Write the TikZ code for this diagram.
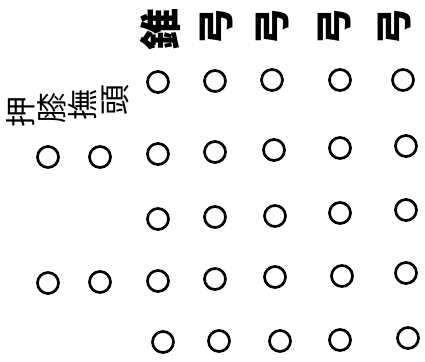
\documentclass[tikz,border=0pt]{standalone}
\usepackage{fontspec}
\newfontfamily\cjk{Noto Sans CJK TC}
\begin{document}
\begin{tikzpicture}[x=1pt,y=-1pt,
  dot/.style={circle,draw,line width=2.7pt,minimum size=21pt,inner sep=0pt},
  glyph/.style={font=\cjk\bfseries,scale=3.7,rotate=90,inner sep=0pt},
  bigglyph/.style={font=\cjk\bfseries,scale=4.2,rotate=90,inner sep=0pt},
  sideglyph/.style={font=\cjk,scale=3.1,rotate=90,inner sep=0pt}]
\useasboundingbox (0,0) rectangle (425,361);
% top labels
\node[bigglyph] (t1) at (160,30) {錐};
\node[glyph] (t2) at (217,27) {弓};
\node[glyph] (t3) at (273,27) {弓};
\node[glyph] (t4) at (335,27) {弓};
\node[glyph] (t5) at (395,27) {弓};
% left labels
\node[sideglyph] (l1) at (21,112) {押};
\node[sideglyph] (l2) at (52,108) {膝};
\node[sideglyph] (l3) at (83,105) {撫};
\node[sideglyph] (l4) at (115,100) {頭};
% row 1
\node[dot] (r1c3) at (158,82) {};
\node[dot] (r1c4) at (215,81) {};
\node[dot] (r1c5) at (272,80) {};
\node[dot] (r1c6) at (340,80) {};
\node[dot] (r1c7) at (403,80) {};
% row 2
\node[dot] (r2c1) at (48,157) {};
\node[dot] (r2c2) at (100,157) {};
\node[dot] (r2c3) at (158,154) {};
\node[dot] (r2c4) at (215,152) {};
\node[dot] (r2c5) at (274,150) {};
\node[dot] (r2c6) at (340,148) {};
\node[dot] (r2c7) at (406,146) {};
% row 3
\node[dot] (r3c3) at (158,219) {};
\node[dot] (r3c4) at (215,217) {};
\node[dot] (r3c5) at (275,216) {};
\node[dot] (r3c6) at (340,213) {};
\node[dot] (r3c7) at (406,210) {};
% row 4
\node[dot] (r4c1) at (48,283) {};
\node[dot] (r4c2) at (100,282) {};
\node[dot] (r4c3) at (158,281) {};
\node[dot] (r4c4) at (215,279) {};
\node[dot] (r4c5) at (275,277) {};
\node[dot] (r4c6) at (342,276) {};
\node[dot] (r4c7) at (406,273) {};
% row 5
\node[dot] (r5c3) at (163,342) {};
\node[dot] (r5c4) at (219,341) {};
\node[dot] (r5c5) at (280,341) {};
\node[dot] (r5c6) at (340,340) {};
\node[dot] (r5c7) at (408,338) {};
\end{tikzpicture}
\end{document}
